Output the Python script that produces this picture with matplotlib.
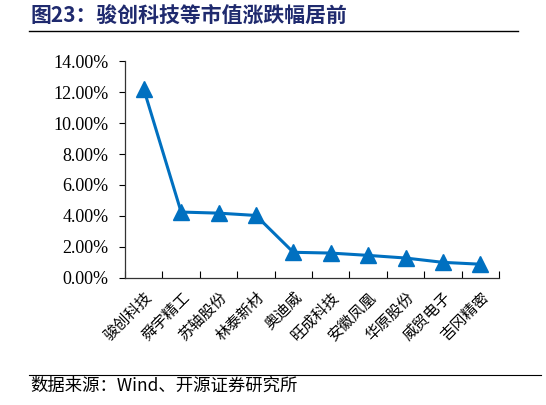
import matplotlib
matplotlib.use("Agg")
import matplotlib.pyplot as plt
import numpy as np
from matplotlib.ticker import FuncFormatter, FixedLocator

plt.rcParams['font.family'] = ['Liberation Serif', 'Noto Sans CJK SC', 'DejaVu Sans']

# data
companies = ["骏创科技", "舜宇精工", "苏轴股份", "林泰新材", "奥迪威",
             "旺成科技", "安徽凤凰", "华原股份", "威贸电子", "吉冈精密"]
change_pct = [12.2, 4.25, 4.18, 4.03, 1.65, 1.6, 1.45, 1.28, 1.0, 0.88]
yticks = [0, 2, 4, 6, 8, 10, 12, 14]

fig = plt.figure(figsize=(5.46, 4.05), dpi=100)
ax = fig.add_axes([0.229, 0.314, 0.685, 0.535])

x = np.arange(len(companies))
ax.plot(x, change_pct, color="#0070C0", linewidth=2.2, marker="^",
        markersize=12, clip_on=False)

ax.set_xlim(-0.5, len(companies) - 0.5)
ax.set_ylim(0, 14)
ax.set_yticks(yticks)
ax.yaxis.set_major_formatter(FuncFormatter(lambda v, p: f"{v:.2f}%"))
ax.tick_params(axis="y", labelsize=13, length=4, direction="out", width=0.8, pad=8)

ax.set_xticks(x)
ax.set_xticklabels(companies, rotation=45, ha="right", rotation_mode="anchor",
                   fontsize=11, family=['Noto Sans CJK SC'])
ax.tick_params(axis="x", which="major", length=0, pad=8)
ax.xaxis.set_minor_locator(FixedLocator(np.arange(-0.5, len(companies), 1.0)))
ax.tick_params(axis="x", which="minor", length=5, direction="in", width=0.8)

for s in ["top", "right"]:
    ax.spines[s].set_visible(False)
for s in ["left", "bottom"]:
    ax.spines[s].set_linewidth(0.9)
    ax.spines[s].set_color("#333333")

fig.text(0.055, 0.962, "图23：骏创科技等市值涨跌幅居前", fontsize=15, fontweight="bold",
         color="#1F2A6E", family=['Noto Sans CJK SC'], va="center")
fig.add_artist(plt.Line2D([0.053, 0.948], [0.923, 0.923], color="black", linewidth=1.0))
fig.add_artist(plt.Line2D([0.053, 0.99], [0.075, 0.075], color="black", linewidth=0.8))
fig.text(0.055, 0.047, "数据来源：Wind、开源证券研究所", fontsize=12.5,
         family=['Noto Sans CJK SC'], va="center")

fig.savefig("out.png", dpi=100)
